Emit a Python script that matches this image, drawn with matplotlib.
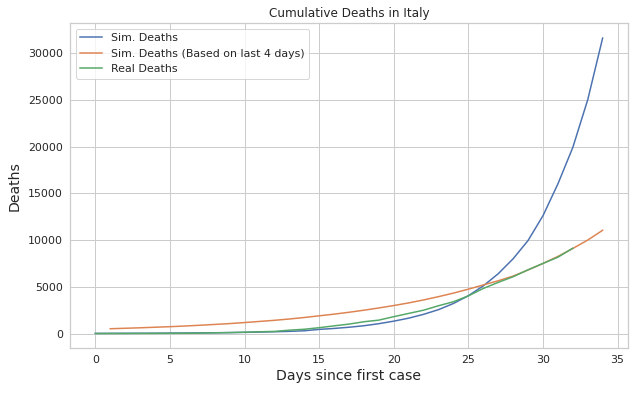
import matplotlib
matplotlib.use('Agg')
import matplotlib.pyplot as plt
import numpy as np

# days since first case
days = list(range(0, 35))
days_recent = list(range(1, 35))
days_real = list(range(0, 33))

sim_deaths = [20, 25, 30, 36, 43, 52, 62, 75, 90, 108,
              130, 160, 195, 240, 300, 450, 550, 680, 840, 1060,
              1330, 1650, 2060, 2560, 3220, 4050, 5100, 6400, 8000, 9950,
              12600, 16000, 19900, 25000, 31600]

sim_deaths_recent = [520, 570, 620, 680, 740, 810, 890, 980, 1070, 1180,
                     1300, 1420, 1560, 1720, 1900, 2080, 2280, 2500, 2740, 3000,
                     3280, 3600, 3950, 4330, 4750, 5200, 5650, 6150, 6800, 7500,
                     8250, 9100, 10000, 11050]

real_deaths = [7, 10, 12, 17, 21, 29, 34, 52, 79, 107,
               148, 197, 233, 366, 463, 631, 827, 1016, 1266, 1441,
               1809, 2158, 2503, 2978, 3405, 4032, 4825, 5476, 6077, 6820,
               7503, 8165, 9134]

# seaborn-like whitegrid look without seaborn
plt.rcParams.update({
	'font.family': 'DejaVu Sans',
	'text.color': '#262626',
	'axes.labelcolor': '#262626',
	'xtick.color': '#262626',
	'ytick.color': '#262626',
	'axes.edgecolor': '#cccccc',
	'axes.linewidth': 1.25,
	'grid.color': '#cccccc',
	'grid.linewidth': 1.0,
	'xtick.major.size': 0,
	'ytick.major.size': 0,
	'xtick.major.pad': 7,
	'ytick.major.pad': 7,
	'xtick.labelsize': 11,
	'ytick.labelsize': 11,
	'legend.fontsize': 11,
	'axes.titlesize': 12,
})

fig = plt.figure(figsize=(634/72, 394/72), dpi=72)
ax = fig.add_axes([70/634, 1 - 348.3/394, 558/634, 325/394])
ax.grid(True)
ax.set_axisbelow(True)

ax.plot(days, sim_deaths, color='#4C72B0', lw=1.5, label='Sim. Deaths')
ax.plot(days_recent, sim_deaths_recent, color='#DD8452', lw=1.5, label='Sim. Deaths (Based on last 4 days)')
ax.plot(days_real, real_deaths, color='#55A868', lw=1.5, label='Real Deaths')

ax.set_title('Cumulative Deaths in Italy')
ax.set_xlabel('Days since first case', fontsize=14)
ax.set_ylabel('Deaths', fontsize=14, labelpad=6)
ax.legend(loc='upper left')

fig.savefig('out.png', dpi=72)
